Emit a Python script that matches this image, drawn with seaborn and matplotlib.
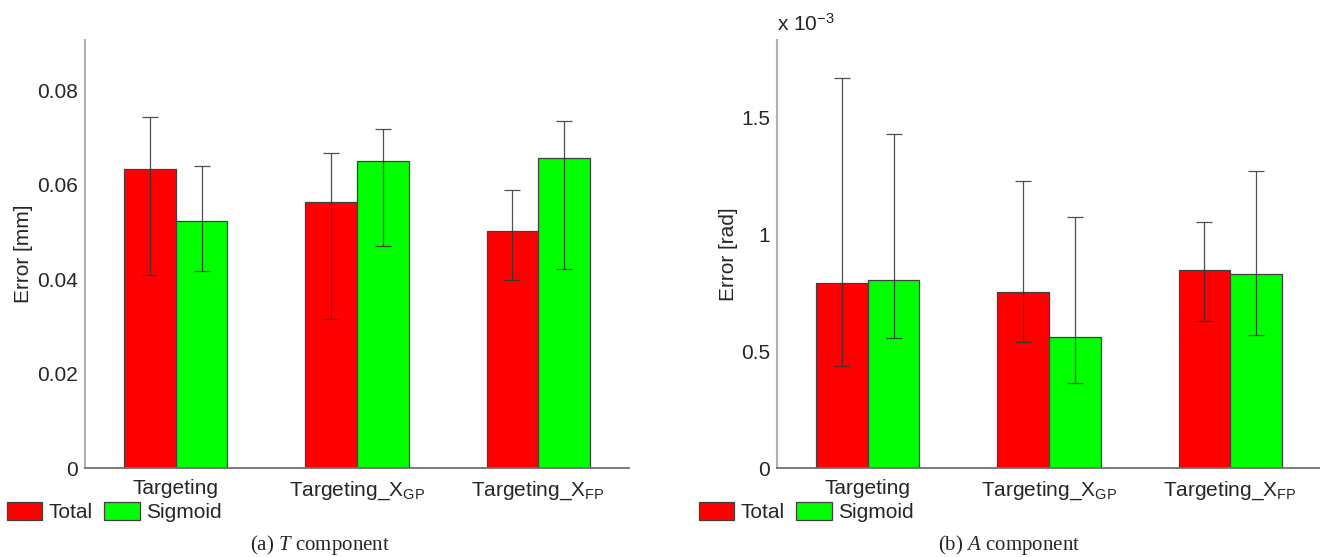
import numpy as np
import pandas as pd
import matplotlib
matplotlib.use("Agg")
import matplotlib.pyplot as plt
import seaborn as sns
from matplotlib.ticker import FuncFormatter

# -----------------------------------
# Data
# -----------------------------------

categories = [
    "Targeting",
    r"Targeting_X$_{\mathrm{GP}}$",
    r"Targeting_X$_{\mathrm{FP}}$",
]
series = ["Total", "Sigmoid"]

# (a) T component, error in mm
t_total = [0.0632, 0.0564, 0.0501]
t_total_low = [0.0408, 0.0316, 0.0399]
t_total_high = [0.0742, 0.0667, 0.0588]
t_sigmoid = [0.0522, 0.0649, 0.0657]
t_sigmoid_low = [0.0417, 0.0469, 0.0422]
t_sigmoid_high = [0.0639, 0.0718, 0.0734]

# (b) A component, error in rad x 10^-3
a_total = [0.794, 0.754, 0.849]
a_total_low = [0.435, 0.538, 0.628]
a_total_high = [1.670, 1.227, 1.054]
a_sigmoid = [0.807, 0.561, 0.829]
a_sigmoid_low = [0.555, 0.362, 0.569]
a_sigmoid_high = [1.432, 1.077, 1.274]

colors = ["#ff0000", "#00ff00"]

# -----------------------------------
# Style
# -----------------------------------

sns.set_style("white")
plt.rcParams["font.family"] = ["Liberation Sans", "DejaVu Sans"]
plt.rcParams["mathtext.fontset"] = "custom"
plt.rcParams["mathtext.rm"] = "Liberation Sans"
plt.rcParams["mathtext.it"] = "Liberation Serif:italic"

FS = 15


def make_frame(total, sigmoid):
    return pd.DataFrame({
        "Category": categories * 2,
        "Series": [series[0]] * 3 + [series[1]] * 3,
        "Error": total + sigmoid,
    })


def draw_panel(ax, total, total_lo, total_hi, sigmoid, sig_lo, sig_hi,
               ymax, yticks, ylabel, label_x, leg_x):

    df = make_frame(total, sigmoid)

    sns.barplot(
        data=df,
        x="Category",
        y="Error",
        hue="Series",
        hue_order=series,
        palette=colors,
        width=0.571,
        edgecolor="#404040",
        linewidth=0.9,
        errorbar=None,
        saturation=1,
        ax=ax
    )

    # asymmetric error bars at the bar centres
    bounds = [(total, total_lo, total_hi), (sigmoid, sig_lo, sig_hi)]
    for cont, (mean, lo, hi) in zip(ax.containers, bounds):
        xs = [p.get_x() + p.get_width() / 2 for p in cont.patches]
        mean = np.array(mean)
        yerr = [mean - np.array(lo), np.array(hi) - mean]
        ax.errorbar(
            xs, mean, yerr=yerr,
            fmt="none", ecolor="#333333", elinewidth=0.9,
            capsize=5.5, capthick=0.9, alpha=0.85
        )

    ax.set_xlim(-0.5, 2.5)
    ax.set_ylim(0, ymax)
    ax.set_yticks(yticks)
    ax.yaxis.set_major_formatter(FuncFormatter(lambda v, p: f"{v:g}"))

    ax.set_xlabel("")
    ax.set_ylabel(ylabel, fontsize=FS)
    ax.yaxis.set_label_coords(label_x, 0.5)

    ax.tick_params(axis="both", length=0, labelsize=FS)
    ax.tick_params(axis="x", pad=8)
    ax.tick_params(axis="y", pad=5)

    for side in ["top", "right"]:
        ax.spines[side].set_visible(False)
    ax.spines["left"].set_color("#b0b0b0")
    ax.spines["left"].set_linewidth(1.5)
    ax.spines["bottom"].set_color("#707070")
    ax.spines["bottom"].set_linewidth(1.3)

    handles, labels = ax.get_legend_handles_labels()
    ax.get_legend().remove()
    ax.figure.legend(
        handles, labels,
        loc="center left",
        bbox_to_anchor=(leg_x, 0.081),
        ncol=2,
        frameon=False,
        fontsize=FS,
        handlelength=1.7,
        handleheight=1.0,
        handletextpad=0.3,
        columnspacing=0.55,
        borderpad=0,
        borderaxespad=0
    )


# -----------------------------------
# Figure
# -----------------------------------

fig = plt.figure(figsize=(13.2, 5.57), dpi=100)

ax1 = fig.add_axes([85 / 1320, 89 / 557, 544 / 1320, 428 / 557])
ax2 = fig.add_axes([777 / 1320, 89 / 557, 544 / 1320, 428 / 557])

draw_panel(
    ax1, t_total, t_total_low, t_total_high,
    t_sigmoid, t_sigmoid_low, t_sigmoid_high,
    0.0906, [0, 0.02, 0.04, 0.06, 0.08], "Error [mm]",
    -0.096, 7 / 1320
)

draw_panel(
    ax2, a_total, a_total_low, a_total_high,
    a_sigmoid, a_sigmoid_low, a_sigmoid_high,
    1.833, [0, 0.5, 1, 1.5], "Error [rad]",
    -0.072, 699 / 1320
)

ax2.text(0, 1.012, r"x 10$^{\mathrm{-3}}$", transform=ax2.transAxes,
         fontsize=FS, ha="left", va="bottom")

# captions
fig.text(320 / 1320, 0.013, r"(a) $T$ component", ha="center",
         va="baseline", fontsize=15, family="Liberation Serif")
fig.text(1009 / 1320, 0.013, r"(b) $A$ component", ha="center",
         va="baseline", fontsize=15, family="Liberation Serif")

fig.savefig("out.png", dpi=100)
